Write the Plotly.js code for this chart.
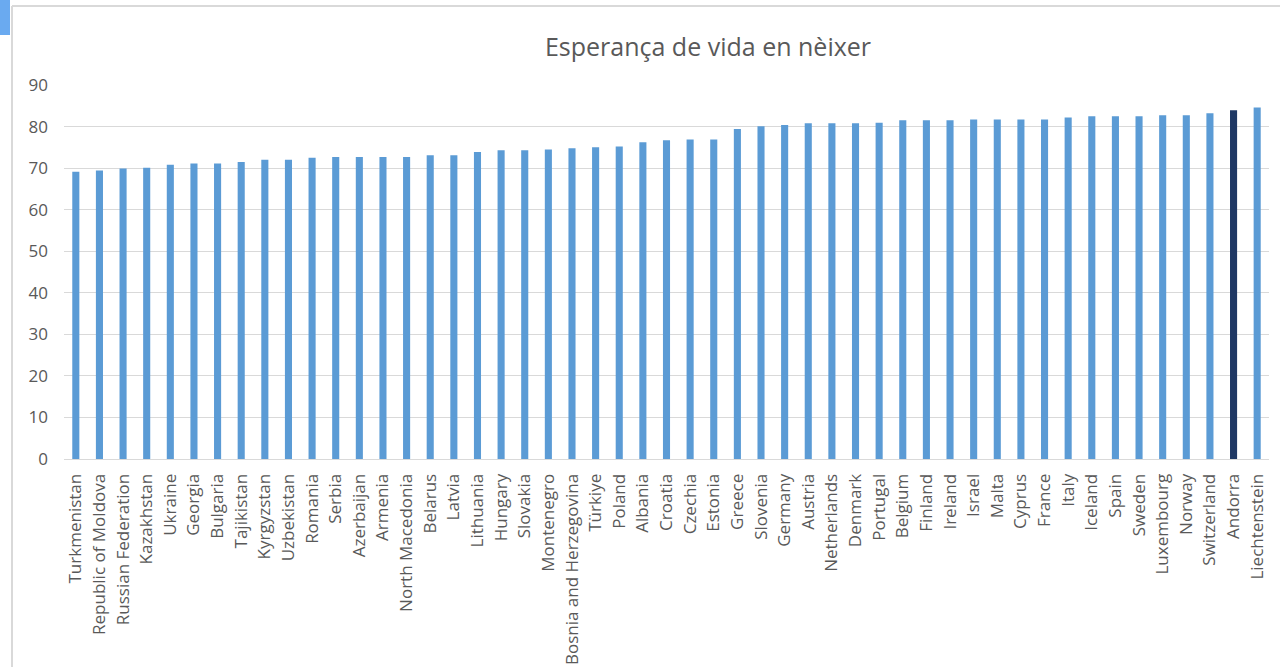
<!DOCTYPE html>
<html>
<head>
<meta charset="utf-8">
<script src="https://cdn.plot.ly/plotly-3.0.1.min.js"></script>
<style>
html,body{margin:0;padding:0;background:#fff;}
#chart{width:1280px;height:667px;}
</style>
</head>
<body>
<div id="chart"></div>
<script>
const countries = ["Turkmenistan","Republic of Moldova","Russian Federation","Kazakhstan","Ukraine","Georgia","Bulgaria","Tajikistan","Kyrgyzstan","Uzbekistan","Romania","Serbia","Azerbaijan","Armenia","North Macedonia","Belarus","Latvia","Lithuania","Hungary","Slovakia","Montenegro","Bosnia and Herzegovina","Türkiye","Poland","Albania","Croatia","Czechia","Estonia","Greece","Slovenia","Germany","Austria","Netherlands","Denmark","Portugal","Belgium","Finland","Ireland","Israel","Malta","Cyprus","France","Italy","Iceland","Spain","Sweden","Luxembourg","Norway","Switzerland","Andorra","Liechtenstein"];
const lifeExpectancy = [69.1,69.4,69.9,70.1,70.8,71.1,71.1,71.5,72.0,72.0,72.5,72.7,72.7,72.7,72.7,73.1,73.1,73.9,74.3,74.3,74.5,74.8,75.0,75.2,76.2,76.7,76.9,76.9,79.4,80.1,80.4,80.8,80.8,80.8,80.9,81.5,81.5,81.5,81.7,81.7,81.7,81.7,82.2,82.5,82.5,82.5,82.7,82.7,83.2,83.9,84.6];
const highlight = "Andorra";
const yTicks = [0,10,20,30,40,50,60,70,80,90];
const chartTitle = "Esperança de vida en nèixer";

const colors = countries.map(c => c === highlight ? "#1f3864" : "#5b9bd5");

const trace = {
  type: "bar",
  x: countries,
  y: lifeExpectancy,
  marker: {color: colors},
  hoverinfo: "x+y"
};

const fontFam = "'Open Sans', 'Noto Sans', sans-serif";
const W = 1280, H = 667, L = 64, R = 11, T = 85, B = 208;
const pw = W - L - R, ph = H - T - B;

const layout = {
  width: W, height: H,
  margin: {l: L, r: R, t: T, b: B, pad: 0},
  paper_bgcolor: "#ffffff",
  plot_bgcolor: "#ffffff",
  bargap: 0.7,
  showlegend: false,
  title: {
    text: chartTitle,
    font: {family: fontFam, size: 25, color: "#595959"},
    xref: "paper",
    x: (708 - L) / pw, xanchor: "center",
    y: 1 - 47/H, yanchor: "middle"
  },
  xaxis: {
    type: "category",
    tickangle: -90,
    tickfont: {family: fontFam, size: 17, color: "#595959"},
    showgrid: false,
    showline: true,
    linecolor: "#d9d9d9",
    linewidth: 1,
    ticks: "",
    ticklen: 0,
    ticklabelstandoff: 7,
    automargin: false
  },
  yaxis: {
    range: [0, 90],
    tickvals: yTicks,
    ticktext: yTicks.map(String),
    tickfont: {family: fontFam, size: 17, color: "#595959"},
    showgrid: true,
    gridcolor: "#d9d9d9",
    gridwidth: 1,
    zeroline: false,
    showline: false,
    ticks: "",
    ticklabelstandoff: 15,
    automargin: false
  },
  shapes: [
    {type: "line", xref: "paper", yref: "paper",
     x0: (12-L)/pw, x1: (W-L)/pw, y0: (H-B-6)/ph, y1: (H-B-6)/ph,
     line: {color: "#d9d9d9", width: 2}},
    {type: "line", xref: "paper", yref: "paper",
     x0: (12-L)/pw, x1: (12-L)/pw, y0: (H-B-6)/ph, y1: -B/ph,
     line: {color: "#d9d9d9", width: 2}},
    {type: "rect", xref: "paper", yref: "paper",
     x0: -L/pw, x1: (10-L)/pw, y0: (H-B-35)/ph, y1: (H-B)/ph,
     fillcolor: "#6aaaf0", line: {width: 0}}
  ]
};

Plotly.newPlot("chart", [trace], layout, {displayModeBar: false, staticPlot: true});
</script>
</body>
</html>
